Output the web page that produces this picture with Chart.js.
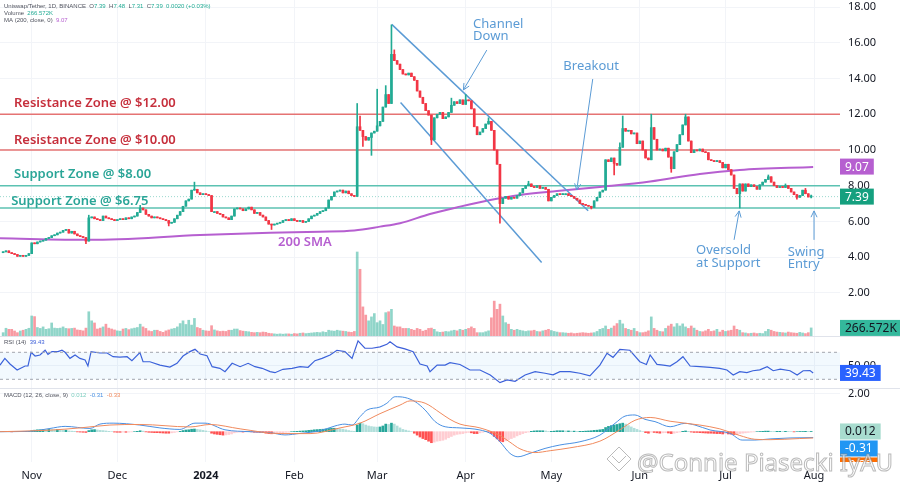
<!DOCTYPE html>
<html lang="en">
<head>
<meta charset="utf-8">
<title>Uniswap / Tether 1D</title>
<script src="https://cdn.jsdelivr.net/npm/chart.js@4.4.1/dist/chart.umd.min.js"></script>
<style>
  body { margin: 0; background: #ffffff; }
  #wrap { position: relative; width: 900px; height: 487px; overflow: hidden; background: #ffffff; }
  .pane { position: absolute; left: 0; width: 900px; }
  #pricePane { top: 0; height: 336px; }
  #rsiPane { top: 337px; height: 51px; }
  #macdPane { top: 389px; height: 98px; }
  .sep { position: absolute; left: 0; width: 900px; height: 1px; background: #e0e3eb; }
</style>
</head>
<body>
<div id="wrap">
  <div class="pane" id="pricePane"><canvas id="priceChart"></canvas></div>
  <div class="sep" style="top:336px"></div>
  <div class="pane" id="rsiPane"><canvas id="rsiChart"></canvas></div>
  <div class="sep" style="top:388px"></div>
  <div class="pane" id="macdPane"><canvas id="macdChart"></canvas></div>
</div>
<script>
// UNI/USDT daily candles. Day 0 = 1 Nov 2023, first candle = 22 Oct 2023
const firstDay = -10;
const firstOpen = 4.25;

const closes = [
  4.30, 4.35, 4.25, 4.20, 4.15, 4.05, 4.10, 4.05, 4.10, 4.20,
  4.80, 4.75, 4.85, 4.90, 4.95, 5.05, 5.10, 5.20, 5.25, 5.35,
  5.40, 5.50, 5.55, 5.35, 5.45, 5.30, 5.20, 5.15, 5.10, 4.90,
  6.20, 6.25, 6.15, 6.10, 6.05, 6.30, 6.20, 6.15, 6.10, 6.05,
  6.10, 6.15, 6.10, 6.20, 6.15, 6.25, 6.30, 6.50, 6.75, 6.65,
  6.40, 6.30, 6.20, 6.25, 6.20, 6.15, 6.10, 6.05, 5.90, 5.95,
  6.15, 6.35, 6.55, 6.85, 7.15, 7.25, 7.75, 7.80, 7.60, 7.50,
  7.55, 7.50, 7.45, 6.55, 6.55, 6.45, 6.40, 6.25, 6.20, 6.10,
  6.30, 6.70, 6.75, 6.70, 6.60, 6.70, 6.80, 6.65, 6.45, 6.50,
  6.35, 6.25, 6.05, 5.85, 5.80, 5.85, 5.90, 5.95, 6.05, 6.10,
  6.05, 6.15, 6.05, 6.00, 6.05, 5.95, 6.00, 6.15, 6.30, 6.35,
  6.45, 6.55, 6.60, 6.75, 7.20, 7.40, 7.65, 7.70, 7.75, 7.60,
  7.70, 7.55, 7.45, 7.40, 11.30, 11.10, 10.75, 10.55, 10.70, 10.95,
  11.05, 11.35, 11.60, 12.40, 13.10, 12.60, 15.35, 15.00, 14.80, 14.50,
  14.25, 14.20, 14.30, 14.10, 13.90, 13.30, 12.95, 12.60, 12.20, 11.95,
  10.56, 11.80, 12.00, 12.10, 11.75, 11.85, 12.10, 12.50, 12.70, 12.60,
  12.80, 12.55, 12.80, 12.75, 12.30, 11.30, 10.85, 11.00, 11.20, 11.45,
  11.60, 11.10, 10.00, 9.20, 7.00, 7.30, 7.40, 7.25, 7.35, 7.30,
  7.45, 7.60, 7.85, 8.00, 8.10, 7.95, 7.90, 8.00, 7.85, 7.90,
  7.80, 7.15, 7.35, 7.45, 7.55, 7.50, 7.55, 7.55, 7.45, 7.40,
  7.30, 7.20, 7.00, 6.95, 6.90, 6.85, 6.78, 7.15, 7.35, 7.65,
  7.75, 9.45, 9.35, 9.55, 9.25, 9.15, 10.15, 11.20, 11.05, 11.10,
  10.90, 10.95, 10.35, 10.50, 10.00, 9.55, 9.45, 11.25, 10.60, 10.00,
  10.05, 9.95, 10.10, 9.60, 8.95, 9.90, 10.30, 10.85, 11.40, 11.85,
  10.50, 9.85, 10.00, 9.95, 10.05, 9.90, 9.85, 9.45, 9.40, 9.35,
  9.40, 9.30, 9.00, 9.20, 8.90, 8.60, 7.85, 7.55, 8.10, 7.70,
  8.10, 7.95, 8.05, 7.95, 7.80, 8.05, 8.20, 8.35, 8.50, 8.20,
  8.00, 7.90, 7.95, 7.90, 8.00, 7.85, 7.65, 7.50, 7.35, 7.45,
  7.75, 7.55, 7.37, 7.39
];

// only the wicks that stick out clearly
const wickHighs = {20: 6.35, 38: 6.9, 57: 8.2, 114: 12.6, 115: 11.9, 121: 13.4, 124: 13.6, 126: 17.0,
  127: 15.6, 147: 12.9, 152: 13.1, 160: 11.8, 174: 8.25, 206: 10.4, 207: 11.9, 217: 12.0, 229: 12.0,
  258: 8.6, 264: 8.1, 271: 7.85, 273: 7.48};
const wickLows = {19: 4.75, 48: 5.75, 84: 5.55, 116: 10.2, 119: 9.7, 140: 10.3, 164: 5.9, 196: 6.7,
  204: 8.6, 224: 8.75, 248: 6.75, 268: 7.25, 273: 7.31};

// volume in thousands
const volumes = [
  110, 255, 220, 220, 165, 110, 165, 190, 220, 255,
  660, 640, 280, 250, 300, 220, 240, 430, 260, 250,
  260, 300, 250, 240, 250, 260, 200, 190, 170, 260,
  800, 500, 430, 230, 260, 300, 390, 260, 230, 200,
  170, 160, 230, 250, 210, 240, 260, 280, 390, 300,
  250, 170, 150, 190, 190, 150, 120, 170, 200, 230,
  250, 300, 410, 500, 380, 520, 360, 580, 280, 250,
  190, 170, 160, 340, 200, 170, 150, 160, 150, 190,
  190, 230, 230, 180, 160, 150, 140, 120, 110, 120,
  110, 130, 120, 90, 80, 70, 60, 70, 60, 70,
  70, 60, 80, 70, 90, 100, 80, 90, 100, 110,
  120, 110, 140, 120, 190, 170, 160, 190, 170, 160,
  150, 130, 120, 150, 2770, 2200, 960, 690, 500, 630,
  740, 440, 500, 380, 770, 800, 880, 330, 300, 300,
  250, 250, 250, 220, 190, 250, 220, 160, 190, 250,
  260, 220, 140, 120, 130, 150, 140, 170, 190, 170,
  220, 190, 220, 250, 300, 250, 110, 110, 110, 140,
  170, 600, 1150, 880, 1050, 660, 440, 390, 220, 190,
  220, 190, 170, 150, 170, 170, 190, 150, 140, 170,
  190, 220, 180, 150, 130, 110, 110, 100, 90, 100,
  80, 90, 100, 110, 100, 90, 100, 110, 150, 220,
  250, 330, 220, 260, 330, 410, 520, 400, 250, 220,
  190, 250, 150, 110, 110, 130, 170, 630, 250, 190,
  150, 140, 250, 330, 390, 300, 410, 330, 400, 300,
  250, 330, 260, 190, 150, 140, 170, 220, 150, 170,
  220, 130, 190, 150, 170, 190, 330, 220, 190, 110,
  100, 80, 90, 100, 80, 90, 80, 150, 220, 190,
  150, 130, 120, 110, 100, 130, 110, 100, 90, 120,
  100, 80, 110, 266.572
];

// MACD histogram, one bar per day
const histValues = [
  0.01, 0.01, 0.00, -0.01, 0.00, 0.01, 0.00, 0.01, 0.02, 0.02,
  0.05, 0.08, 0.10, 0.10, 0.11, 0.10, 0.12, 0.11, 0.10, 0.12,
  0.10, 0.08, 0.08, 0.04, 0.03, 0.02, -0.01, -0.02, -0.03, -0.04,
  0.06, 0.10, 0.11, 0.09, 0.07, 0.06, 0.04, 0.02, 0.00, -0.02,
  -0.03, -0.03, -0.02, -0.03, -0.02, -0.01, 0.00, 0.02, 0.05, 0.03,
  -0.01, -0.03, -0.04, -0.05, -0.05, -0.06, -0.07, -0.08, -0.08, -0.06,
  -0.04, -0.01, 0.02, 0.06, 0.09, 0.10, 0.13, 0.14, 0.12, 0.10,
  0.07, 0.04, 0.00, -0.08, -0.12, -0.14, -0.16, -0.18, -0.17, -0.15,
  -0.12, -0.06, -0.03, -0.02, -0.02, -0.01, 0.00, -0.01, -0.03, -0.03,
  -0.04, -0.05, -0.08, -0.10, -0.11, -0.10, -0.09, -0.07, -0.05, -0.03,
  -0.02, 0.00, 0.01, 0.02, 0.03, 0.04, 0.05, 0.07, 0.08, 0.10,
  0.11, 0.12, 0.13, 0.14, 0.17, 0.18, 0.18, 0.17, 0.15, 0.13,
  0.10, 0.06, 0.03, 0.02, 0.35, 0.45, 0.42, 0.35, 0.30, 0.27,
  0.25, 0.24, 0.25, 0.30, 0.40, 0.38, 0.45, 0.40, 0.30, 0.20,
  0.12, 0.08, 0.04, 0.00, -0.08, -0.18, -0.28, -0.36, -0.42, -0.50,
  -0.58, -0.55, -0.50, -0.48, -0.45, -0.40, -0.32, -0.25, -0.18, -0.14,
  -0.12, -0.10, -0.06, -0.04, -0.06, -0.10, -0.10, -0.06, -0.03, 0.00,
  -0.02, -0.10, -0.25, -0.38, -0.50, -0.53, -0.48, -0.42, -0.36, -0.30,
  -0.22, -0.16, -0.10, -0.05, -0.02, 0.02, 0.04, 0.05, 0.05, 0.05,
  0.04, 0.01, 0.02, 0.03, 0.05, 0.05, 0.05, 0.04, 0.04, 0.03,
  0.03, 0.02, 0.02, 0.02, 0.03, 0.04, 0.05, 0.07, 0.08, 0.10,
  0.12, 0.22, 0.28, 0.32, 0.35, 0.38, 0.42, 0.45, 0.40, 0.32,
  0.25, 0.18, 0.12, 0.06, 0.00, -0.05, -0.08, -0.02, -0.04, -0.06,
  -0.08, -0.06, -0.05, -0.07, -0.10, -0.08, -0.05, -0.02, 0.02, 0.04,
  0.02, -0.02, -0.04, -0.04, -0.05, -0.06, -0.07, -0.08, -0.08, -0.09,
  -0.10, -0.10, -0.12, -0.10, -0.12, -0.13, -0.15, -0.14, -0.10, -0.08,
  -0.06, -0.04, -0.02, -0.01, 0.00, 0.01, 0.02, 0.03, 0.03, 0.02,
  0.01, 0.02, 0.02, 0.01, 0.02, 0.01, 0.00, -0.01, 0.00, 0.01,
  0.01, 0.02, 0.01, 0.012
];

// 200-day SMA
const maDays = [-11.1, 20.4, 59.0, 83.5, 101.0, 113.0, 122.0, 129.0, 139.5, 150.0, 160.6, 171.0, 184.0, 199.0, 216.6, 234.0, 248.0, 273.7];
const maValues = [5.06, 4.97, 5.24, 5.37, 5.43, 5.50, 5.71, 5.90, 6.42, 6.83, 7.20, 7.48, 7.70, 7.93, 8.23, 8.66, 8.88, 9.05];

// RSI (14)
const rsiDays = [-11.1, -9.4, -7.6, -5.1, -2.3, -1.3, -0.2, 1.2, 2.9, 4.7,
  5.7, 7.1, 9.2, 10.6, 11.7, 13.4, 15.2, 16.9, 18.7, 19.7,
  20.8, 23.9, 26.4, 28.5, 30.9, 33.4, 35.1, 37.9, 39.0, 41.4,
  44.9, 48.4, 50.9, 53.0, 55.4, 57.2, 59.0, 61.4, 63.2, 65.9,
  67.7, 70.2, 73.0, 75.8, 78.2, 80.7, 83.5, 85.2, 88.0, 91.2,
  94.0, 96.8, 99.2, 101.7, 104.5, 106.9, 109.7, 112.2, 114.3, 116.7,
  119.2, 122.0, 124.4, 125.5, 128.0, 130.7, 133.6, 136.0, 138.5, 139.5,
  142.0, 144.8, 146.5, 150.0, 153.5, 157.0, 160.6, 164.0, 166.5, 169.3,
  172.8, 176.3, 179.8, 182.6, 185.0, 188.5, 192.0, 195.5, 199.0, 201.5,
  203.6, 206.0, 209.5, 213.0, 215.3, 216.6, 219.0, 221.2, 223.6, 226.0,
  228.1, 230.6, 234.0, 237.6, 241.0, 243.5, 245.7, 248.0, 250.5, 252.6,
  255.0, 257.6, 259.7, 262.2, 265.6, 268.1, 270.2, 272.6, 273.7];
const rsiValues = [51, 61, 52.7, 43.8, 49.7, 49.7, 70, 64.5, 66, 73,
  67, 71, 71, 73, 70, 61, 66, 61, 58.6, 49.7,
  71, 69, 69, 63.5, 63, 63.5, 57.6, 69.5, 56, 56,
  51, 48, 53.7, 64.5, 71, 74.4, 67.5, 65, 48.7, 46.3,
  41.3, 53.7, 48.7, 53.7, 48.7, 46.3, 41.3, 39.8, 44.8, 46.3,
  48.7, 47.8, 57.6, 61, 66, 73, 71, 61, 87, 76,
  76, 78, 81.8, 85.7, 78, 75, 71, 52.7, 49.7, 41.3,
  51, 51, 54.6, 52, 43.8, 43.8, 36.4, 25, 29, 27,
  36.4, 41.3, 39, 36.7, 41.3, 41.3, 39, 35, 51, 68.5,
  62.5, 74.4, 73, 56, 52, 66, 52, 51, 49.7, 56,
  63.5, 49.7, 48.7, 47.8, 46.3, 43.8, 36.4, 41.3, 40, 42.7,
  44, 48.7, 42.7, 45, 42.7, 36.4, 42.7, 43, 39.43];

// MACD (12, 26, 9)
const macdDays = [-11.1, -0.6, 6.4, 11.7, 20.4, 23.9, 28.5, 37.9, 44.9, 51.9,
  57.2, 60.7, 67.7, 76.5, 83.5, 88.7, 94.0, 101.0, 106.2, 109.7,
  112.2, 115.0, 117.4, 122.0, 124.4, 127.3, 130.7, 134.3, 137.8, 141.3,
  144.8, 150.0, 157.0, 160.6, 164.0, 167.5, 170.3, 174.5, 179.8, 185.0,
  192.0, 199.0, 204.3, 207.8, 211.3, 214.8, 218.3, 223.6, 228.8, 232.3,
  237.6, 244.6, 248.8, 253.3, 258.6, 265.6, 273.7];
const macdValues = [0.0, 0.02, 0.17, 0.28, 0.17, 0.4, 0.45, 0.35, 0.2, 0.12,
  0.45, 0.45, 0.1, 0.0, -0.05, -0.17, -0.09, 0.05, 0.3, 0.4,
  0.35, 0.79, 1.14, 1.3, 1.5, 1.84, 1.8, 1.58, 1.14, 0.53,
  0.26, 0.2, 0.09, -0.09, -0.53, -1.14, -1.32, -1.14, -0.88, -0.7,
  -0.53, -0.18, 0.44, 0.82, 0.88, 0.65, 0.53, 0.26, 0.44, 0.35,
  0.09, -0.09, -0.44, -0.44, -0.38, -0.33, -0.31];
const signalDays = [-11.1, 6.4, 16.9, 27.4, 37.9, 55.5, 62.5, 73.0, 87.0, 97.5,
  108.0, 115.0, 122.0, 129.0, 132.5, 137.8, 143.0, 146.5, 150.0, 157.0,
  164.0, 167.5, 171.0, 176.3, 181.6, 188.5, 199.0, 206.0, 211.3, 216.6,
  223.6, 234.0, 241.0, 248.0, 253.3, 258.6, 269.0, 273.7];
const signalValues = [0.0, 0.08, 0.2, 0.35, 0.38, 0.25, 0.38, 0.15, -0.1, -0.1,
  0.2, 0.45, 0.95, 1.4, 1.62, 1.5, 1.0, 0.65, 0.4, 0.2,
  -0.2, -0.55, -0.9, -1.1, -1.0, -0.85, -0.5, 0.1, 0.6, 0.75,
  0.55, 0.35, 0.15, -0.2, -0.4, -0.42, -0.36, -0.33];

// axis ticks
const priceTicks = [2, 4, 6, 8, 10, 12, 14, 16, 18];
const rsiTicks = [50];
const macdTicks = [2];
const monthDays = [0, 30, 61, 92, 121, 152, 182, 213, 243, 274];
const monthLabels = ['Nov', 'Dec', '2024', 'Feb', 'Mar', 'Apr', 'May', 'Jun', 'Jul', 'Aug'];

// drawn levels and channel
const resistanceLevels = [12, 10];
const supportLevels = [8, 6.75];
const channelTop = [[126.1, 17.03], [194.9, 6.6]];
const channelBottom = [[129.2, 12.65], [178.6, 3.7]];

// last values shown on the right scale
const lastClose = 7.39, lastMA = 9.07, lastVolume = 266.572;
const lastRSI = 39.43, lastHist = 0.012, lastMACD = -0.31, lastSignal = -0.33;

// ---------- look ----------
Chart.defaults.font.family = "'Noto Sans', sans-serif";
Chart.defaults.color = '#131722';

const UP = '#22ab94', DOWN = '#f23645';
const UP_VOL = 'rgba(34,171,148,0.5)', DOWN_VOL = 'rgba(242,54,69,0.5)';
const RES_LINE = '#e57373', RES_TEXT = '#c62f3c';
const SUP_LINE = '#5cc2b2', SUP_TEXT = '#2aa597';
const MA_COLOR = '#b65fd0', NOTE_BLUE = '#5b9bd5';
const GRID = '#f2f4f8';

const xMin = -11.1, xMax = 283.1;

// ---------- build candles ----------
const bodies = [], wicks = [], candleColors = [];
let prevClose = firstOpen;
closes.forEach((c, i) => {
  const d = firstDay + i;
  const o = prevClose;
  const hi = wickHighs[d] !== undefined ? wickHighs[d] : Math.max(o, c);
  const lo = wickLows[d] !== undefined ? wickLows[d] : Math.min(o, c);
  bodies.push({x: d, y: [o, c]});
  wicks.push({x: d, y: [lo, hi]});
  candleColors.push(c >= o ? UP : DOWN);
  prevClose = c;
});
const volumeData = volumes.map((v, i) => ({x: firstDay + i, y: v}));
const volumeColors = candleColors.map(c => c === UP ? UP_VOL : DOWN_VOL);
const histData = histValues.map((v, i) => ({x: firstDay + i, y: v}));
const histColors = histValues.map((v, i) => {
  const p = i > 0 ? histValues[i - 1] : 0;
  if (v >= 0) return v >= p ? '#26a69a' : '#b2dfdb';
  return v <= p ? '#ff5252' : '#ffcdd2';
});
const pairs = (xs, ys) => xs.map((x, i) => ({x: x, y: ys[i]}));

// ---------- shared axes ----------
function timeAxis(showLabels) {
  return {
    type: 'linear', min: xMin, max: xMax, offset: false,
    afterBuildTicks: s => { s.ticks = monthDays.map(v => ({value: v})); },
    grid: {color: GRID, drawTicks: false, offset: false},
    border: {display: false},
    ticks: {
      display: showLabels, padding: 7, maxRotation: 0, autoSkip: false, color: '#131722',
      font: c => ({size: 11, weight: c.tick && c.tick.value === 61 ? 'bold' : 'normal'}),
      callback: v => monthLabels[monthDays.indexOf(v)]
    },
    afterFit: s => { s.height = showLabels ? 25 : 0; s.paddingLeft = 0; s.paddingRight = 0; }
  };
}
function valueAxis(min, max, tickValues) {
  return {
    position: 'right', min: min, max: max,
    afterBuildTicks: s => { s.ticks = tickValues.map(v => ({value: v})); },
    grid: {color: GRID, drawTicks: false},
    border: {display: false},
    ticks: {padding: 8, color: '#131722', font: {size: 11}, callback: v => v.toFixed(2)},
    afterFit: s => { s.width = 60; s.paddingTop = 0; s.paddingBottom = 0; }
  };
}
const baseOptions = {
  responsive: true, maintainAspectRatio: false, animation: false,
  layout: {padding: 0},
  plugins: {legend: {display: false}, tooltip: {enabled: false}}
};

// ---------- helpers for drawing ----------
function drawValueBoxes(chart, boxes) {
  const {ctx, chartArea} = chart;
  ctx.save();
  ctx.beginPath();
  ctx.rect(chartArea.right, chartArea.top, chart.width - chartArea.right, chartArea.bottom - chartArea.top);
  ctx.clip();
  ctx.font = '12px "Noto Sans"';
  ctx.textBaseline = 'middle';
  let lastBottom = -Infinity;
  boxes.forEach(b => {
    const h = 16;
    let cy = chart.scales[b.axis].getPixelForValue(b.value);
    if (cy - h / 2 < lastBottom + 1) cy = lastBottom + 1 + h / 2;
    const w = ctx.measureText(b.text).width + 10;
    ctx.fillStyle = b.bg;
    ctx.fillRect(chartArea.right, cy - h / 2, w, h);
    ctx.fillStyle = b.fg;
    ctx.fillText(b.text, chartArea.right + 5, cy + 0.5);
    lastBottom = cy + h / 2;
  });
  ctx.restore();
}
function drawSegments(ctx, x, y, parts) {
  parts.forEach(([t, c]) => { ctx.fillStyle = c; ctx.fillText(t, x, y); x += ctx.measureText(t).width; });
}
function drawArrow(ctx, x1, y1, x2, y2) {
  ctx.beginPath(); ctx.moveTo(x1, y1); ctx.lineTo(x2, y2); ctx.stroke();
  const a = Math.atan2(y2 - y1, x2 - x1), s = 7;
  ctx.beginPath();
  ctx.moveTo(x2 - s * Math.cos(a - 0.45), y2 - s * Math.sin(a - 0.45));
  ctx.lineTo(x2, y2);
  ctx.lineTo(x2 - s * Math.cos(a + 0.45), y2 - s * Math.sin(a + 0.45));
  ctx.stroke();
}

// text notes placed in (day, price)
const zoneFont = '600 13px "Noto Sans"';
const noteFont = '13px "Noto Sans"';
const notes = [
  {lines: ['Resistance Zone @ $12.00'], day: -6.2, price: 12.63, color: RES_TEXT, font: zoneFont},
  {lines: ['Resistance Zone @ $10.00'], day: -6.2, price: 10.56, color: RES_TEXT, font: zoneFont},
  {lines: ['Support Zone @ $8.00'], day: -6.2, price: 8.64, color: SUP_TEXT, font: zoneFont},
  {lines: ['Support Zone @ $6.75'], day: -7.2, price: 7.11, color: SUP_TEXT, font: zoneFont},
  {lines: ['200 SMA'], day: 86.3, price: 4.84, color: MA_COLOR, font: zoneFont},
  {lines: ['Channel', 'Down'], day: 154.6, price: 17.05, color: NOTE_BLUE, font: noteFont},
  {lines: ['Breakout'], day: 186.2, price: 14.66, color: NOTE_BLUE, font: noteFont},
  {lines: ['Oversold', 'at Support'], day: 232.7, price: 4.37, color: NOTE_BLUE, font: noteFont},
  {lines: ['Swing', 'Entry'], day: 264.8, price: 4.28, color: NOTE_BLUE, font: noteFont}
];
const arrows = [
  {from: [159.4, 15.59], to: [151.2, 13.36]},
  {from: [196.5, 13.97], to: [190.9, 7.76]},
  {from: [246.0, 4.97], to: [247.8, 6.59]},
  {from: [274.0, 4.97], to: [274.0, 6.59]}
];

const pricePlugin = {
  id: 'priceExtras',
  afterDatasetsDraw(chart) {
    const {ctx, scales: {x, y}} = chart;
    ctx.save();
    ctx.textBaseline = 'middle';
    ctx.textAlign = 'left';
    notes.forEach(n => {
      ctx.font = n.font;
      ctx.fillStyle = n.color;
      n.lines.forEach((t, i) => ctx.fillText(t, x.getPixelForValue(n.day), y.getPixelForValue(n.price) + i * 12.5));
    });
    ctx.strokeStyle = NOTE_BLUE;
    ctx.lineWidth = 1;
    arrows.forEach(a => drawArrow(ctx,
      x.getPixelForValue(a.from[0]), y.getPixelForValue(a.from[1]),
      x.getPixelForValue(a.to[0]), y.getPixelForValue(a.to[1])));

    // legend lines at the top left
    ctx.font = '6px "Liberation Sans"';
    const g = '#50535e', t = '#22ab94';
    drawSegments(ctx, 4, 6, [['Uniswap/Tether, 1D, BINANCE  ', g], ['O', g], ['7.39  ', t], ['H', g], ['7.48  ', t],
      ['L', g], ['7.31  ', t], ['C', g], ['7.39  ', t], ['0.0020 (+0.03%)', t]]);
    drawSegments(ctx, 4, 13, [['Volume  ', g], ['266.572K', t]]);
    drawSegments(ctx, 4, 20, [['MA (200, close, 0)  ', g], ['9.07', MA_COLOR]]);
    ctx.restore();
  },
  afterDraw(chart) {
    drawValueBoxes(chart, [
      {axis: 'y', value: lastMA, text: lastMA.toFixed(2), bg: MA_COLOR, fg: '#ffffff'},
      {axis: 'y', value: lastClose, text: lastClose.toFixed(2), bg: '#15a07f', fg: '#ffffff'},
      {axis: 'yVol', value: lastVolume, text: lastVolume.toFixed(3) + 'K', bg: '#34b89c', fg: '#131722'}
    ]);
  }
};

// ---------- price + volume ----------
const levelLine = (level, color) => ({
  type: 'line', data: [{x: xMin, y: level}, {x: xMax, y: level}], yAxisID: 'y',
  borderColor: color, borderWidth: 1.5, pointRadius: 0, order: 6
});
const segLine = (pts, color) => ({
  type: 'line', data: pts.map(p => ({x: p[0], y: p[1]})), yAxisID: 'y',
  borderColor: color, borderWidth: 1.5, pointRadius: 0, order: 3
});

new Chart(document.getElementById('priceChart'), {
  type: 'bar',
  data: {
    datasets: [
      {data: volumeData, yAxisID: 'yVol', backgroundColor: volumeColors, barThickness: 2, grouped: false, order: 9},
      ...resistanceLevels.map(l => levelLine(l, RES_LINE)),
      ...supportLevels.map(l => levelLine(l, SUP_LINE)),
      {type: 'line', data: [{x: xMin, y: lastClose}, {x: xMax, y: lastClose}], yAxisID: 'y',
        borderColor: 'rgba(34,171,148,0.45)', borderWidth: 1, borderDash: [1, 2], pointRadius: 0, order: 7},
      {type: 'line', data: pairs(maDays, maValues), yAxisID: 'y', borderColor: MA_COLOR, borderWidth: 2,
        pointRadius: 0, cubicInterpolationMode: 'monotone', order: 4},
      segLine(channelTop, NOTE_BLUE),
      segLine(channelBottom, NOTE_BLUE),
      {data: wicks, yAxisID: 'y', backgroundColor: candleColors, barThickness: 1, grouped: false, order: 2},
      {data: bodies, yAxisID: 'y', backgroundColor: candleColors, barThickness: 2, minBarLength: 1, grouped: false, order: 1}
    ]
  },
  options: Object.assign({}, baseOptions, {
    scales: {
      x: timeAxis(false),
      y: valueAxis(-0.41, 18.392, priceTicks),
      yVol: {position: 'right', display: false, min: 0, max: 11080}
    }
  }),
  plugins: [pricePlugin]
});

// ---------- RSI ----------
new Chart(document.getElementById('rsiChart'), {
  type: 'line',
  data: {
    datasets: [
      {data: [{x: xMin, y: 70}, {x: xMax, y: 70}], borderColor: '#a3a6af', borderWidth: 1, borderDash: [3, 3],
        pointRadius: 0, fill: '+1', backgroundColor: 'rgba(33,150,243,0.06)'},
      {data: [{x: xMin, y: 30}, {x: xMax, y: 30}], borderColor: '#a3a6af', borderWidth: 1, borderDash: [3, 3],
        pointRadius: 0, fill: false},
      {data: pairs(rsiDays, rsiValues), borderColor: '#3d5fd9', borderWidth: 1.2, pointRadius: 0, fill: false}
    ]
  },
  options: Object.assign({}, baseOptions, {
    scales: {x: timeAxis(false), y: valueAxis(17.11, 92.67, rsiTicks)}
  }),
  plugins: [{
    id: 'rsiExtras',
    afterDatasetsDraw(chart) {
      const ctx = chart.ctx;
      ctx.save();
      ctx.font = '6px "Liberation Sans"';
      ctx.textBaseline = 'middle';
      drawSegments(ctx, 4, 5, [['RSI (14)  ', '#50535e'], [lastRSI.toFixed(2), '#3d5fd9']]);
      ctx.restore();
    },
    afterDraw(chart) {
      drawValueBoxes(chart, [{axis: 'y', value: lastRSI, text: lastRSI.toFixed(2), bg: '#2962ff', fg: '#ffffff'}]);
    }
  }]
});

// ---------- MACD ----------
new Chart(document.getElementById('macdChart'), {
  type: 'bar',
  data: {
    datasets: [
      {data: histData, backgroundColor: histColors, barThickness: 2, grouped: false, order: 3},
      {type: 'line', data: pairs(macdDays, macdValues), borderColor: '#4a90e2', borderWidth: 1,
        pointRadius: 0, cubicInterpolationMode: 'monotone', order: 2},
      {type: 'line', data: pairs(signalDays, signalValues), borderColor: '#f08a5d', borderWidth: 1,
        pointRadius: 0, cubicInterpolationMode: 'monotone', order: 1}
    ]
  },
  options: Object.assign({}, baseOptions, {
    scales: {x: timeAxis(true), y: valueAxis(-1.595, 2.247, macdTicks)}
  }),
  plugins: [{
    id: 'macdExtras',
    afterDatasetsDraw(chart) {
      const ctx = chart.ctx;
      ctx.save();
      ctx.font = '6px "Liberation Sans"';
      ctx.textBaseline = 'middle';
      drawSegments(ctx, 4, 6, [['MACD (12, 26, close, 9)  ', '#50535e'], [lastHist.toFixed(3) + '  ', '#7fcfc0'],
        [lastMACD.toFixed(2) + '  ', '#4a90e2'], [lastSignal.toFixed(2), '#f08a5d']]);
      ctx.restore();
    },
    afterDraw(chart) {
      drawValueBoxes(chart, [
        {axis: 'y', value: lastHist, text: lastHist.toFixed(3), bg: '#a8dccf', fg: '#131722'},
        {axis: 'y', value: lastMACD, text: lastMACD.toFixed(2), bg: '#2196f3', fg: '#ffffff'},
        {axis: 'y', value: lastSignal, text: lastSignal.toFixed(2), bg: '#ff6d00', fg: '#ffffff'}
      ]);
      // watermark
      const ctx = chart.ctx;
      ctx.save();
      ctx.font = '24px "Noto Sans"';
      ctx.textBaseline = 'alphabetic';
      ctx.fillStyle = 'rgba(255,255,255,0.6)';
      ctx.strokeStyle = 'rgba(130,130,130,0.55)';
      ctx.lineWidth = 1;
      ctx.fillText('@Connie Piasecki IyAU', 637, 82);
      ctx.strokeText('@Connie Piasecki IyAU', 637, 82);
      ctx.beginPath();
      ctx.moveTo(607, 70); ctx.lineTo(619, 58); ctx.lineTo(631, 70); ctx.lineTo(619, 82); ctx.closePath();
      ctx.moveTo(612, 67); ctx.lineTo(619, 74); ctx.lineTo(626, 67);
      ctx.stroke();
      ctx.restore();
    }
  }]
});
</script>
</body>
</html>
